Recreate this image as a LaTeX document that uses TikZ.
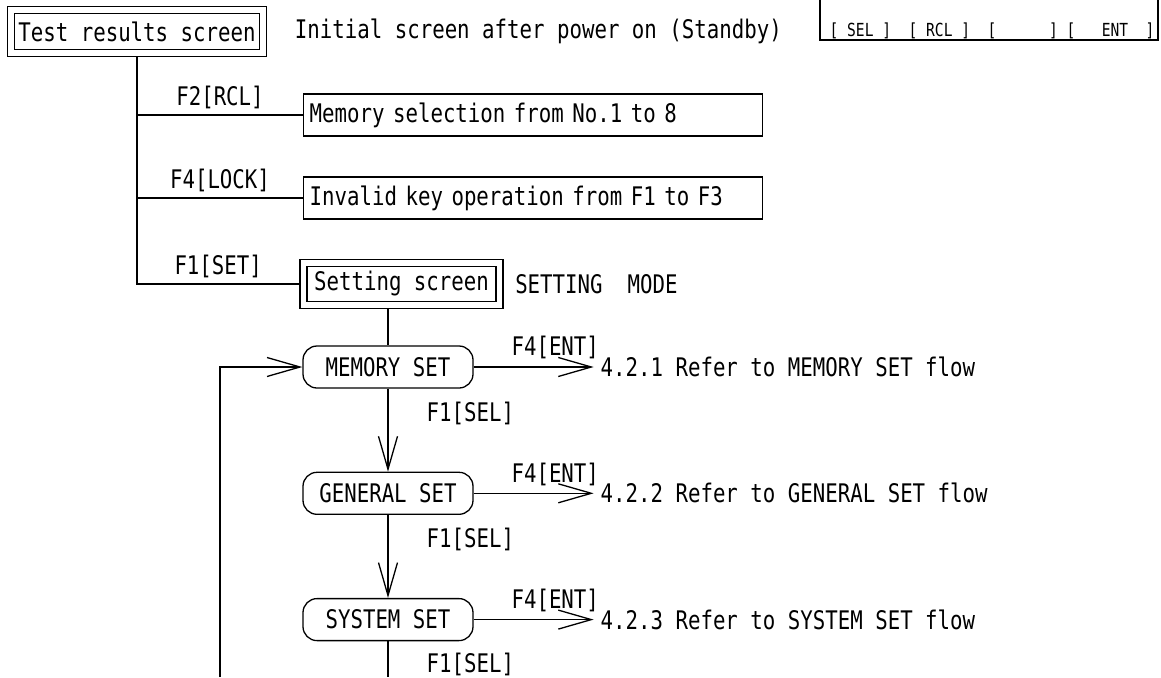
\documentclass[tikz,border=0pt]{standalone}
\usepackage{fontspec}
\newfontfamily\gothic[FakeStretch=0.81]{DejaVu Sans Mono}
\newcommand{\Gbig}{\gothic\fontsize{25.6pt}{30pt}\selectfont}
\newcommand{\Gsmall}{\gothic\fontsize{18pt}{21pt}\selectfont}
\usepackage{tikz}
\usetikzlibrary{arrows.meta}
\usetikzlibrary{positioning}
\tikzstyle{hit}=[-{Straight Barb[length=33pt,width=19pt]}]
\tikzstyle{Ascreen}=[draw,double,double distance=6pt,inner sep=0,outer sep=4.3pt,minimum height=43pt]
\tikzstyle{Amsg}=[draw,anchor=west,minimum height=42pt,text width=447pt,inner xsep=6pt,inner ysep=0,align=left]
\tikzstyle{Aset}=[draw,rounded corners=14pt,minimum width=170pt,minimum height=42pt,inner sep=0]
\tikzstyle{Alab}=[inner sep=0]
\tikzstyle{Aref}=[inner sep=0,outer sep=7pt]

\begin{document}
\begin{tikzpicture}[x=1pt,y=-1pt,line width=1.3pt,node distance=83pt,
  every node/.style={font=\Gbig}]
\useasboundingbox (0,0) rectangle (1161,677);

\node[Ascreen,minimum width=252pt] (test) at (137,31.5) {Test results screen};
\node[Alab,right=27pt of test] (init) {Initial screen after power on (Standby)};

\node[Alab,font=\Gsmall,anchor=west] (keys) at (829,30.5)
{[~SEL~]~~[~RCL~]~~[~~~~~~]~[~~~ENT~~]};
\draw (820,0) -- (820,40) -- (1158,40) -- (1158,0);

\node[Amsg] (mem) at (303,115) {Memory selection from No.1 to 8};
\node[Amsg] (inv) at (303,198) {Invalid key operation from F1 to F3};
\node[Ascreen,minimum width=196pt,minimum height=42.5pt,double distance=5.6pt,
  outer sep=4.1pt] (set) at (401.5,284) {Setting screen};
\node[Alab,right=11pt of set] (mode) {SETTING~~MODE};

\node[Aset] (mset) at (388,367) {MEMORY SET};
\node[Aset,below=of mset] (gset) {GENERAL SET};
\node[Aset,below=of gset] (sset) {SYSTEM SET};

\node[Aref,right=120pt of mset] (ref1) {4.2.1 Refer to MEMORY SET flow};
\node[Aref,right=120pt of gset] (ref2) {4.2.2 Refer to GENERAL SET flow};
\node[Aref,right=120pt of sset] (ref3) {4.2.3 Refer to SYSTEM SET flow};

\coordinate (bot) at (388,677);
\coordinate (loop) at (220,677);

% main screen branches
\draw (test.south) -- (test.south |- set.west) -- (set.west);
\path
(test.south |- mem.west) edge node[Alab,above=5pt] (lrcl) {F2[RCL]} (mem.west)
(test.south |- inv.west) edge node[Alab,above=5pt] (llock) {F4[LOCK]} (inv.west)
(test.south |- set.west) edge node[Alab,above=5pt] (lset) {F1[SET]} (set.west)
;

% setting mode
\draw (set.south -| mset.north) -- (mset.north);
\draw[hit] (mset.south) -- node[Alab,right=38pt,pos=0.3] (sel1) {F1[SEL]} (gset.north);
\draw[hit] (gset.south) -- node[Alab,right=38pt,pos=0.3] (sel2) {F1[SEL]} (sset.north);
\draw (sset.south) -- node[Alab,right=38pt,pos=0.66] (sel3) {F1[SEL]} (bot);
\draw[hit] (loop) |- (mset.west);

\draw[hit] (mset.east) -- node[Alab,above=7pt,pos=0.68] (ent1) {F4[ENT]} (ref1.west);
\draw[hit] (gset.east) -- node[Alab,above=7pt,pos=0.68] (ent2) {F4[ENT]} (ref2.west);
\draw[hit] (sset.east) -- node[Alab,above=7pt,pos=0.68] (ent3) {F4[ENT]} (ref3.west);
\end{tikzpicture}
\end{document}
